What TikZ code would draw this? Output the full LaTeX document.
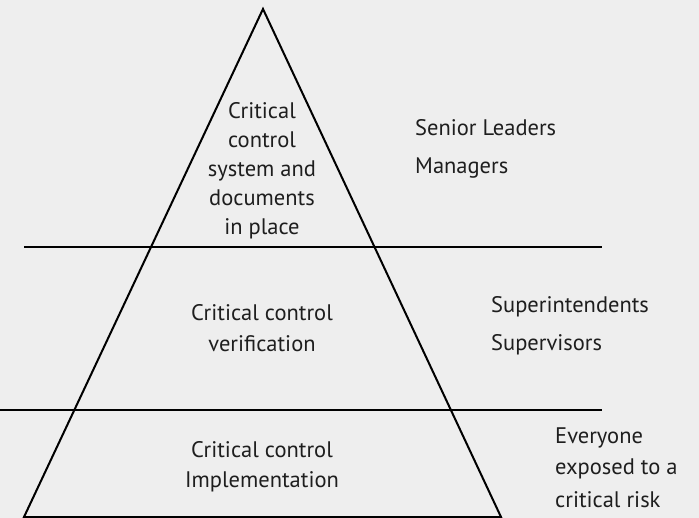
\documentclass[tikz,border=0pt]{standalone}
\usepackage{fontspec}
\setmainfont{PT Sans}
\begin{document}
\begin{tikzpicture}[x=1pt,y=-1pt,
  ln/.style={line width=2pt, black},
  lbl/.style={inner sep=0pt, anchor=base, text={rgb,255:red,30;green,30;blue,30}},
  rlbl/.style={inner sep=0pt, anchor=base west, text={rgb,255:red,30;green,30;blue,30}}]
\useasboundingbox[fill={rgb,255:red,238;green,238;blue,238}] (0,0) rectangle (699,518);
\coordinate (apex) at (263,9);
\coordinate (bl) at (24,517);
\coordinate (br) at (501,517);
\coordinate (l1a) at (24,247);
\coordinate (l1b) at (602,247);
\coordinate (l2a) at (0,410);
\coordinate (l2b) at (602,410);
\draw[ln, line join=miter] (bl) -- (apex) -- (br) -- cycle;
\draw[ln] (l1a) -- (l1b);
\draw[ln] (l2a) -- (l2b);
\node[lbl, font=\fontsize{22.5}{29}\selectfont] (t1) at (262,119) {\begin{tabular}[t]{@{}c@{}}Critical\\control\\system and\\documents\\in place\end{tabular}};
\node[lbl, font=\fontsize{22.5}{31}\selectfont] (t2) at (262,321) {\begin{tabular}[t]{@{}c@{}}Critical control\\verification\end{tabular}};
\node[lbl, font=\fontsize{22.5}{30}\selectfont] (t3) at (262,457) {\begin{tabular}[t]{@{}c@{}}Critical control\\Implementation\end{tabular}};
\node[rlbl, font=\fontsize{22.5}{38}\selectfont] (r1) at (415,136) {\begin{tabular}[t]{@{}l@{}}Senior Leaders\\Managers\end{tabular}};
\node[rlbl, font=\fontsize{22.5}{38}\selectfont] (r2) at (491,313) {\begin{tabular}[t]{@{}l@{}}Superintendents\\Supervisors\end{tabular}};
\node[rlbl, font=\fontsize{22.5}{32}\selectfont] (r3) at (555,443) {\begin{tabular}[t]{@{}l@{}}Everyone\\exposed to a\\critical risk\end{tabular}};
\end{tikzpicture}
\end{document}
